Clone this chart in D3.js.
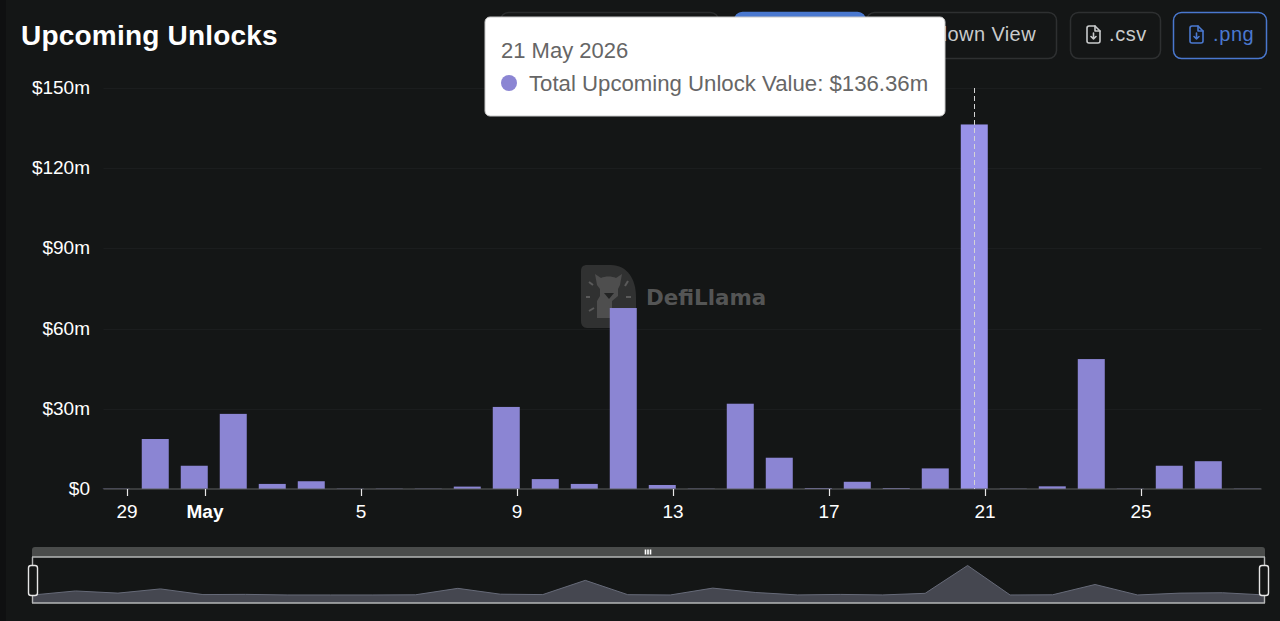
<!DOCTYPE html>
<html>
<head>
<meta charset="utf-8">
<script src="https://cdn.jsdelivr.net/npm/d3@7"></script>
<style>
html, body { margin: 0; padding: 0; background: #0f1011; overflow: hidden; }
svg { display: block; font-family: "Liberation Sans", Arial, sans-serif; }
</style>
</head>
<body>
<svg id="chart" width="1280" height="621"></svg>
<script>
// one value per day, Apr 29 - May 28 2026, $m
var days = d3.utcDay.range(Date.UTC(2026, 3, 29), Date.UTC(2026, 4, 29));
var unlocks = [0.1, 18.7, 8.7, 28.1, 1.9, 2.9, 0.1, 0.1, 0.1, 0.9,
	30.7, 3.7, 1.9, 67.7, 1.5, 0.1, 31.9, 11.7, 0.3, 2.7,
	0.3, 7.7, 136.36, 0.1, 1.0, 48.6, 0.1, 8.7, 10.4, 0.1];
var yTicks = [0, 30, 60, 90, 120, 150];
var xTickDays = [29, 1, 5, 9, 13, 17, 21, 25];
var xTickMonths = [3, 4, 4, 4, 4, 4, 4, 4];
var activeIndex = 22;

var bg = '#141616', barColor = '#8b85d3', barActive = '#9892e8';
var svg = d3.select('#chart');

// panel
svg.append('rect').attr('x', 6).attr('y', -12).attr('width', 1290).attr('height', 650).attr('rx', 12)
	.attr('fill', bg);

// title
svg.append('text').attr('x', 21).attr('y', 45).attr('fill', '#fff')
	.attr('font-size', 28).attr('font-weight', 700).attr('letter-spacing', .2).text('Upcoming Unlocks');

// buttons, partly behind the tooltip
function button(x, w, y, h, stroke, fill){
	svg.append('rect').attr('x', x + .5).attr('y', y + .5).attr('width', w).attr('height', h).attr('rx', 8)
		.attr('fill', fill).attr('stroke', stroke).attr('stroke-width', 1.5);
}
function fileIcon(x, color){
	var g = svg.append('g').attr('transform', 'translate(' + x + ',26)')
		.attr('fill', 'none').attr('stroke', color).attr('stroke-width', 1.6)
		.attr('stroke-linejoin', 'round').attr('stroke-linecap', 'round');
	g.append('path').attr('d', 'M1 2a2 2 0 0 1 2-2h6l5 5v10a2 2 0 0 1-2 2H3a2 2 0 0 1-2-2z');
	g.append('path').attr('d', 'M9 0v5h5M7.5 7v6M5 10.5l2.5 2.5 2.5-2.5');
}
button(500, 218, 12, 46, '#2a2c2d', bg);
button(866, 190, 12, 46, '#2e3031', bg);
button(734, 131, 12, 46, '#4a78cf', '#4a78cf');
svg.append('text').attr('x', 1036).attr('y', 41).attr('text-anchor', 'end')
	.attr('fill', '#c9cbcc').attr('font-size', 20).attr('letter-spacing', .4).text('Breakdown View');

button(1070, 90, 12, 46, '#2e3031', bg);
fileIcon(1086, '#c9cbcc');
svg.append('text').attr('x', 1109).attr('y', 41).attr('fill', '#c9cbcc')
	.attr('font-size', 20).attr('letter-spacing', .6).text('.csv');

button(1173, 93, 12, 46, '#4a78cf', bg);
fileIcon(1189, '#4a78cf');
svg.append('text').attr('x', 1213).attr('y', 41).attr('fill', '#4a78cf')
	.attr('font-size', 20).attr('letter-spacing', .6).text('.png');

// scales: bars sit on 00:00 UTC, the ticks on local midnight (UTC-7)
var x = d3.scaleUtc()
	.domain([new Date(Date.UTC(2026, 3, 28, 16, 9)), new Date(Date.UTC(2026, 4, 28, 8, 45))])
	.range([103.5, 1261.5]);
var y = d3.scaleLinear().domain([0, 150]).range([489, 88]);
var barWidth = 27;

// watermark
var mark = svg.append('g').attr('transform', 'translate(581,265)');
mark.append('path').attr('d', 'M6 0H30C46 0 55 14 55 32V52C55 59 51 63 44 63H6C2 63 0 60 0 56V6C0 2 2 0 6 0Z')
	.attr('fill', '#303131');
mark.append('path').attr('d', 'M14 9L20 13C24 11 31 11 35 13L41 9L39 20L37 24L37 31L31 36V53H16V36L19 31L19 24L16 20Z')
	.attr('fill', '#4e4e4e');
mark.append('path').attr('d', 'M23 28H33L28 34Z').attr('fill', '#232424');
mark.selectAll('line').data([[8, 17, 12, 20], [5, 32, 9, 32], [8, 46, 13, 43], [44, 21, 47, 16], [45, 32, 50, 32], [41, 44, 45, 47]])
	.enter().append('line')
	.attr('x1', function(d){ return d[0]; }).attr('y1', function(d){ return d[1]; })
	.attr('x2', function(d){ return d[2]; }).attr('y2', function(d){ return d[3]; })
	.attr('stroke', '#5a5a5a').attr('stroke-width', 2);
svg.append('text').attr('x', 646).attr('y', 305).attr('fill', '#545555')
	.attr('font-family', '"DejaVu Sans", sans-serif').attr('font-size', 21.4).attr('font-weight', 700)
	.text('DefiLlama');

// grid and y labels
svg.selectAll('.grid').data(yTicks.slice(1)).enter().append('line').attr('class', 'grid')
	.attr('x1', x.range()[0]).attr('x2', x.range()[1])
	.attr('y1', function(d){ return Math.round(y(d)) + .5; }).attr('y2', function(d){ return Math.round(y(d)) + .5; })
	.attr('stroke', '#1b1d1e');
svg.selectAll('.ylab').data(yTicks).enter().append('text').attr('class', 'ylab')
	.attr('x', 90).attr('y', function(d){ return y(d) + 6; }).attr('text-anchor', 'end')
	.attr('fill', '#fff').attr('font-size', 19)
	.text(function(d){ return d == 0 ? '$0' : '$' + d + 'm'; });

// bars
svg.selectAll('.bar').data(unlocks).enter().append('rect').attr('class', 'bar')
	.attr('x', function(d, i){ return x(days[i]) - barWidth / 2; })
	.attr('y', function(d){ return y(d); })
	.attr('width', barWidth)
	.attr('height', function(d){ return y(0) - y(d); })
	.attr('fill', function(d, i){ return i == activeIndex ? barActive : barColor; });

// x axis
svg.append('line').attr('x1', x.range()[0]).attr('x2', x.range()[1]).attr('y1', 489).attr('y2', 489)
	.attr('stroke', '#5f6163').attr('stroke-width', 1.2);
var tickDates = xTickDays.map(function(d, i){ return new Date(Date.UTC(2026, xTickMonths[i], d, 7)); });
var tick = svg.selectAll('.tick').data(tickDates).enter().append('g').attr('class', 'tick')
	.attr('transform', function(d){ return 'translate(' + Math.floor(x(d) - .5) + ',0)'; });
tick.append('line').attr('x1', .5).attr('x2', .5).attr('y1', 489).attr('y2', 496).attr('stroke', '#e8e8e8').attr('stroke-width', 1.2);
tick.append('text').attr('y', 518).attr('text-anchor', 'middle').attr('fill', '#fff').attr('font-size', 19)
	.attr('font-weight', function(d, i){ return i == 1 ? 700 : 400; })
	.text(function(d, i){ return i == 1 ? 'May' : xTickDays[i]; });

// crosshair
var crossX = Math.round(x(days[activeIndex])) + .5;
svg.append('line').attr('x1', crossX).attr('x2', crossX).attr('y1', 88).attr('y2', 489)
	.attr('stroke', '#d4d4d4').attr('stroke-dasharray', '5 3').attr('stroke-width', 1);

// slider
var sx = d3.scalePoint().domain(d3.range(unlocks.length)).range([33, 1265]);
var sy = d3.scaleLinear().domain([0, 136.36]).range([595, 565.5]);
var sliderBase = 603;
svg.append('path').attr('d', 'M32 557V550a3 3 0 0 1 3-3H1262a3 3 0 0 1 3 3V557Z').attr('fill', '#4a4c4b');
var area = d3.area().x(function(d, i){ return sx(i); }).y0(sliderBase).y1(function(d){ return sy(d); });
var line = d3.line().x(function(d, i){ return sx(i); }).y(function(d){ return sy(d); });
svg.append('path').attr('d', area(unlocks)).attr('fill', '#454750');
svg.append('path').attr('d', line(unlocks)).attr('fill', 'none').attr('stroke', '#666a78').attr('stroke-width', 1);
svg.append('path').attr('d', 'M32 557H1265M32 603H1265M32.5 557V603M1264.5 557V603')
	.attr('fill', 'none').attr('stroke', '#b4b6b6').attr('stroke-width', 1.4);
svg.selectAll('.grip').data([645.5, 648, 650.5]).enter().append('rect').attr('class', 'grip')
	.attr('x', function(d){ return d - .8; }).attr('y', 549.5).attr('width', 1.6).attr('height', 5).attr('fill', '#fff');
svg.selectAll('.handle').data([28.5, 1259.5]).enter().append('rect').attr('class', 'handle')
	.attr('x', function(d){ return d; }).attr('y', 565.5).attr('width', 9).attr('height', 30).attr('rx', 2.5)
	.attr('fill', bg).attr('stroke', '#e6e6e6').attr('stroke-width', 1.4);

// tooltip
svg.append('rect').attr('x', 485).attr('y', 17).attr('width', 460).attr('height', 99).attr('rx', 5)
	.attr('fill', '#fff').attr('stroke', '#c8c8c8').attr('stroke-width', 1);
svg.append('text').attr('x', 501).attr('y', 58).attr('fill', '#666').attr('font-size', 22).text('21 May 2026');
svg.append('circle').attr('cx', 509).attr('cy', 83).attr('r', 8).attr('fill', barColor);
svg.append('text').attr('x', 529).attr('y', 91).attr('fill', '#666').attr('font-size', 22.2)
	.text('Total Upcoming Unlock Value: $' + d3.format('.2f')(unlocks[activeIndex]) + 'm');
</script>
</body>
</html>
